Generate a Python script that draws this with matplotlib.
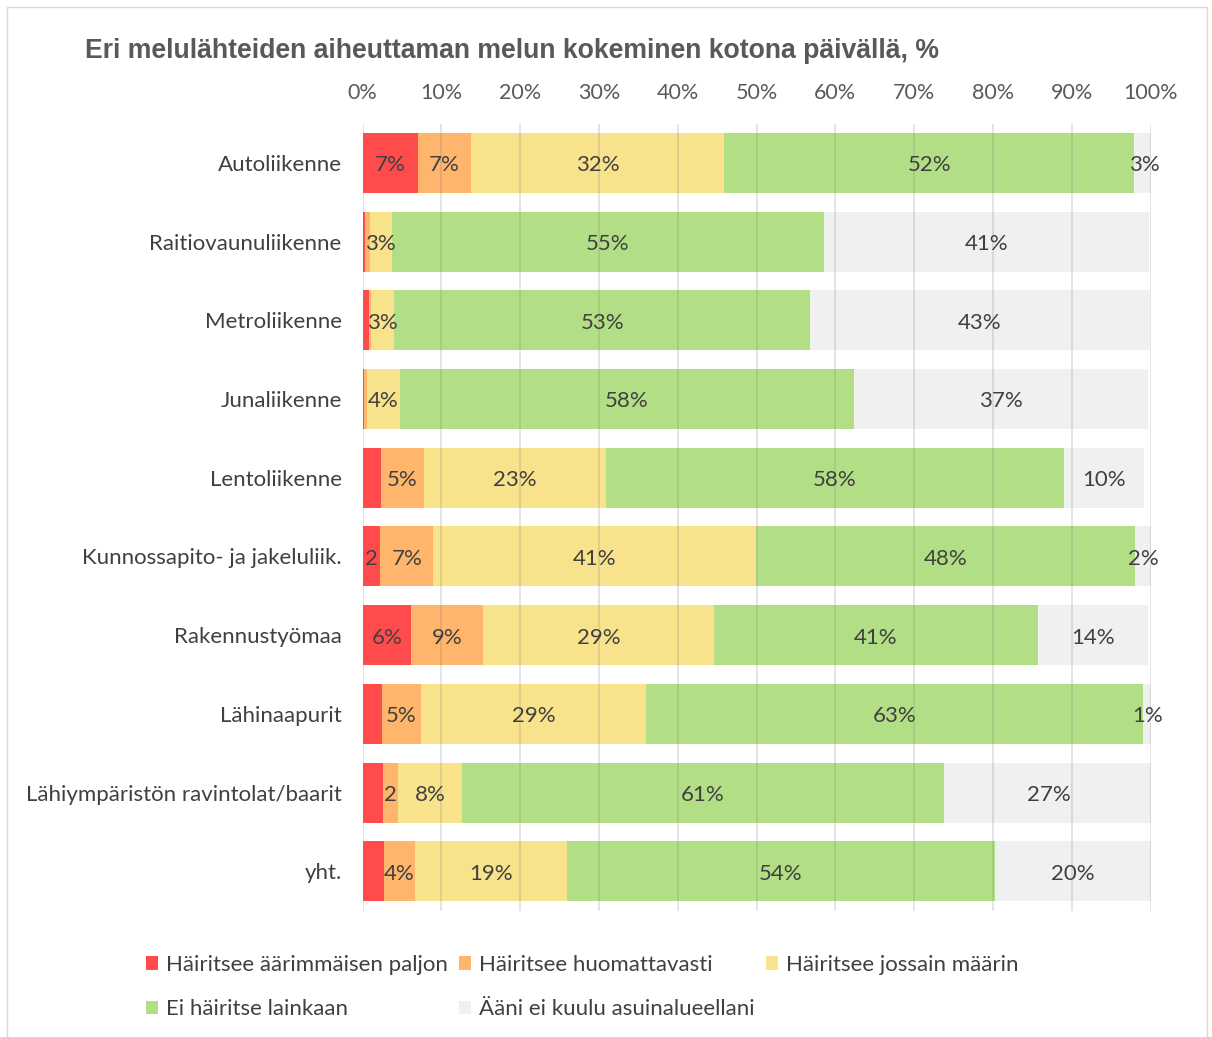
import matplotlib
matplotlib.use("Agg")
import matplotlib.pyplot as plt
from matplotlib.patches import Rectangle, Patch
import numpy as np

categories = ["Autoliikenne", "Raitiovaunuliikenne", "Metroliikenne", "Junaliikenne",
              "Lentoliikenne", "Kunnossapito- ja jakeluliik.", "Rakennustyömaa",
              "Lähinaapurit", "Lähiympäristön ravintolat/baarit", "yht."]
series_names = ["Häiritsee äärimmäisen paljon", "Häiritsee huomattavasti",
                "Häiritsee jossain määrin", "Ei häiritse lainkaan",
                "Ääni ei kuulu asuinalueellani"]

extreme      = [7.0, 0.3, 0.85, 0.15, 2.35, 2.26, 6.15, 2.5, 2.6, 2.7]
considerable = [6.8, 0.6, 0.2, 0.4, 5.4, 6.7, 9.1, 4.9, 1.9, 4.0]
somewhat     = [32.1, 2.8, 3.0, 4.2, 23.2, 41.0, 29.4, 28.6, 8.1, 19.2]
not_at_all   = [52.0, 54.9, 52.7, 57.6, 58.0, 48.1, 41.0, 63.0, 61.2, 54.3]
not_heard    = [2.6, 41.2, 43.1, 37.3, 10.2, 2.1, 14.0, 1.1, 26.6, 19.8]

extreme_labels      = ["7%", "", "", "", "", "2", "6%", "", "", ""]
considerable_labels = ["7%", "", "", "", "5%", "7%", "9%", "5%", "2", "4%"]
somewhat_labels     = ["32%", "3%", "3%", "4%", "23%", "41%", "29%", "29%", "8%", "19%"]
not_at_all_labels   = ["52%", "55%", "53%", "58%", "58%", "48%", "41%", "63%", "61%", "54%"]
not_heard_labels    = ["3%", "41%", "43%", "37%", "10%", "2%", "14%", "1%", "27%", "20%"]

tick_values = [0, 10, 20, 30, 40, 50, 60, 70, 80, 90, 100]
tick_labels = ["0%", "10%", "20%", "30%", "40%", "50%", "60%", "70%", "80%", "90%", "100%"]

colors = ["#FF4B4B", "#FFB56B", "#F9E28C", "#B2DF85", "#F0F0F0"]

plt.rcParams['font.family'] = ['Lato', 'DejaVu Sans']

W, H = 1212, 1037
fig = plt.figure(figsize=(W / 100, H / 100), dpi=100)

# outer border
fig.patches.append(Rectangle((7 / W, -0.05), 1200 / W, 1.05 - 7 / H, transform=fig.transFigure,
                             fill=False, edgecolor="#D9D9D9", linewidth=1.0))

ax = fig.add_axes([362.5 / W, 1 - 910.6 / H, (1150.7 - 362.5) / W, (910.6 - 123.6) / H])

all_vals = [extreme, considerable, somewhat, not_at_all, not_heard]
all_labels = [extreme_labels, considerable_labels, somewhat_labels, not_at_all_labels, not_heard_labels]
y = np.arange(len(categories))
left = np.zeros(len(categories))
handles = []
for vals, labs, col, name in zip(all_vals, all_labels, colors, series_names):
    vals = np.array(vals)
    ax.barh(y, vals, left=left, height=0.762, color=col, edgecolor='none', zorder=1)
    for yi, (l, v, t) in enumerate(zip(left, vals, labs)):
        if t:
            ax.text(l + v / 2, yi + 0.03, t, ha='center', va='center', fontsize=16,
                    color='#404040', zorder=5, clip_on=False)
    handles.append(Patch(facecolor=col, edgecolor='none', label=name))
    left = left + vals

ax.set_xlim(0, 100)
ax.set_ylim(len(categories) - 0.5, -0.5)
ax.set_xticks(tick_values)
ax.set_xticklabels(tick_labels)
ax.set_yticks(y)
ax.set_yticklabels(categories)
ax.xaxis.tick_top()
ax.tick_params(axis='x', length=0, pad=15, labelsize=15.5, labelcolor='#595959')
ax.tick_params(axis='y', length=0, pad=15, labelsize=16, labelcolor='#404040')
for s in ax.spines.values():
    s.set_visible(False)
for xv in tick_values:
    ax.axvline(xv, color='#808080', alpha=0.25, linewidth=1.2, zorder=3)

fig.text(85 / W, 1 - 51 / H, "Eri melulähteiden aiheuttaman melun kokeminen kotona päivällä, %",
         fontsize=19.2, fontweight='bold', color='#595959', ha='left', va='center',
         family=['Liberation Sans', 'DejaVu Sans'])

order = [0, 3, 1, 4, 2]
leg = fig.legend([handles[i] for i in order], [series_names[i] for i in order],
                 ncol=3, loc='upper left', bbox_to_anchor=(146 / W, 1 - 955 / H),
                 frameon=False, fontsize=16, handlelength=0.55, handleheight=0.55,
                 handletextpad=0.36, columnspacing=0.5, labelspacing=1.1,
                 borderaxespad=0, borderpad=0)
for t in leg.get_texts():
    t.set_color('#404040')

fig.savefig("out.png", dpi=100)
